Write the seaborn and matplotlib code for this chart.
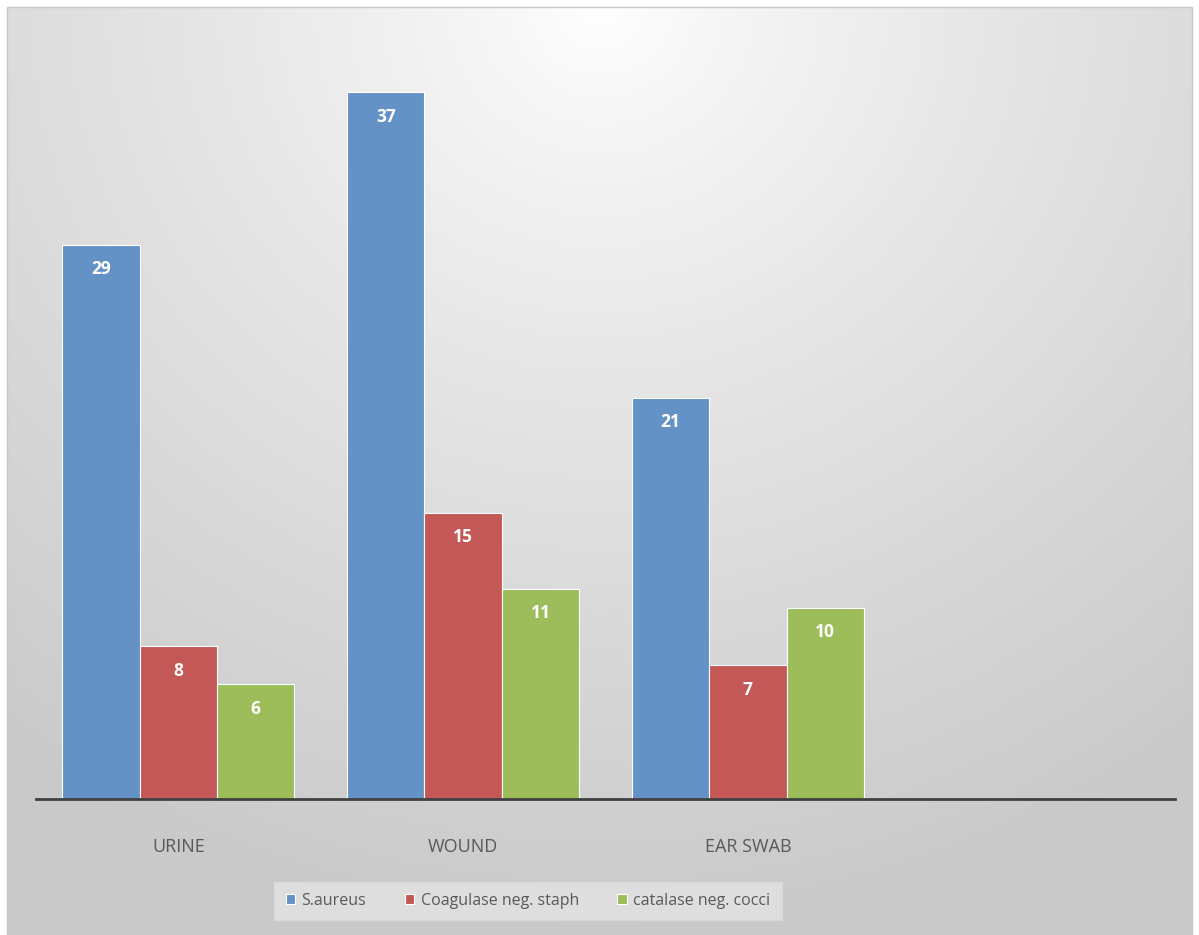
import numpy as np
import pandas as pd
import matplotlib
matplotlib.use("Agg")
import matplotlib.pyplot as plt
import seaborn as sns

categories = ["URINE", "WOUND", "EAR SWAB"]
series = ["S.aureus", "Coagulase neg. staph", "catalase neg. cocci"]
s_aureus = [29, 37, 21]
coag_neg = [8, 15, 7]
catalase_neg = [6, 11, 10]
colors = ["#6592C6", "#C45856", "#9DBD5B"]

rows = []
for name, vals in zip(series, [s_aureus, coag_neg, catalase_neg]):
    for c, v in zip(categories, vals):
        rows.append({"sample": c, "organism": name, "count": v})
df = pd.DataFrame(rows)

sns.set_theme(style="white")
plt.rcParams["font.family"] = ["Open Sans", "DejaVu Sans"]

W, H = 1199, 935
fig = plt.figure(figsize=(W / 100, H / 100), dpi=100)
fig.patch.set_facecolor("white")

# gradient background panel
bx0, by0, bx1, by1 = 7, 7, 1192, 934
bg = fig.add_axes([bx0 / W, 1 - by1 / H, (bx1 - bx0) / W, (by1 - by0) / H], zorder=0)
yy, xx = np.mgrid[0:300, 0:400]
cx, cy = 200, 0
d = np.sqrt(((xx - cx) / 330.0) ** 2 + ((yy - cy) / 300.0) ** 2)
d = np.clip(d, 0, 1)
val = 1.0 - 0.21 * d ** 0.85
img = np.dstack([val, val, val])
bg.imshow(img, aspect="auto", extent=[0, 1, 0, 1], interpolation="bilinear")
bg.set_axis_off()
fig.patches.append(plt.Rectangle((bx0 / W, 1 - by1 / H), (bx1 - bx0) / W, (by1 - by0) / H,
                                 transform=fig.transFigure, fill=False, edgecolor="#C8C8C8",
                                 linewidth=1, zorder=1))

ax_left, ax_right = 36, 1175
ax_bottom_px, ax_top_px = 799, 35
ax = fig.add_axes([ax_left / W, 1 - ax_bottom_px / H, (ax_right - ax_left) / W,
                   (ax_bottom_px - ax_top_px) / H], zorder=2)
ax.patch.set_alpha(0)

sns.barplot(data=df, x="sample", y="count", hue="organism", order=categories,
            hue_order=series, palette=colors, width=0.815, gap=0, saturation=1,
            edgecolor="white", linewidth=0.8, errorbar=None, ax=ax, legend=True)

ax.set_xlim(-0.5, 3.5)
ax.set_ylim(0, 40)
ax.set_xlabel("")
ax.set_ylabel("")
ax.set_yticks([])
for side in ["left", "right", "top"]:
    ax.spines[side].set_visible(False)
ax.spines["bottom"].set_color("#404040")
ax.spines["bottom"].set_linewidth(2)
ax.tick_params(axis="x", length=0, pad=28, labelsize=13, labelcolor="#595959")

for cont in ax.containers:
    ax.bar_label(cont, padding=-24, color="white", fontsize=12.5, fontweight="bold")

handles, labels = ax.get_legend_handles_labels()
ax.get_legend().remove()
leg = fig.legend(handles, labels, loc="center", bbox_to_anchor=(528 / W, 1 - 901 / H),
                 ncol=3, frameon=True, fontsize=11.5, handlelength=0.6, handleheight=0.6,
                 handletextpad=0.4, columnspacing=2.4, borderpad=0.7, fancybox=False)
leg.get_frame().set_facecolor("#E4E4E4")
leg.get_frame().set_edgecolor("#DADADA")
for t in leg.get_texts():
    t.set_color("#595959")
leg.set_zorder(3)

fig.savefig("out.png", dpi=100)
